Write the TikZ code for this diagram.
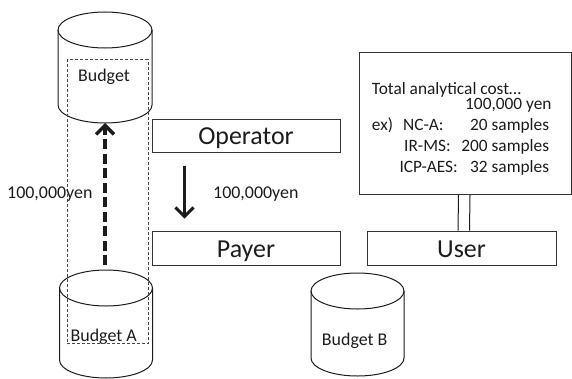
\documentclass[tikz,border=0pt]{standalone}
\usepackage{fontspec}
\setmainfont{Carlito}
\usetikzlibrary{arrows.meta,calc}

\definecolor{ink}{HTML}{1C1C1C}

\tikzset{
  drumline/.style={draw=ink, line width=1bp},
  boxline/.style={draw=ink!90, line width=1bp},
  frame/.style={boxline, inner sep=0pt, font=\fontsize{26}{28}\selectfont,
                text=ink, text height=18bp, text depth=0bp},
  lbl/.style={inner sep=0pt, text=ink, font=\fontsize{18}{20}\selectfont},
  note/.style={inner sep=0pt, text=ink, font=\fontsize{17.4}{19}\selectfont},
  groupline/.style={draw=ink!80, line width=0.8bp, dash pattern=on 3bp off 2bp},
  transfer/.style={draw=ink, line width=3.4bp, dash pattern=on 10bp off 4.5bp,
                   -{Straight Barb[length=9bp,width=18bp]}},
  payment/.style={draw=ink, line width=3bp,
                  -{Straight Barb[length=9bp,width=18bp]}},
  link/.style={draw=ink, line width=1bp}
}

% cylinder: centre x, top-ellipse centre y, bottom-ellipse centre y, x radius
\newcommand\drumbody[4]{%
  \draw[drumline] (#1-#4,#2) -- (#1-#4,#3)
    arc[start angle=180, end angle=360, x radius=#4, y radius=18] -- (#1+#4,#2);
  \draw[drumline] (#1,#2) ellipse[x radius=#4, y radius=18];
}

\begin{document}
\begin{tikzpicture}[x=1bp, y=1bp]
\useasboundingbox (0,0) rectangle (572,378);

% the three budgets
\drumbody{105}{348}{273}{47}
\drumbody{106}{90}{18}{46.5}
\drumbody{357.5}{87}{20}{46.5}
\coordinate (mainfloor) at (105,255);
\coordinate (atop) at (105,113);

\node[lbl, anchor=base] (budget) at (104,296.3) {Budget};
\node[lbl, anchor=base] (budgetA) at (103.7,36.3) {Budget A};
\node[lbl, anchor=base] (budgetB) at (354.7,33) {Budget B};

% dotted grouping of the budget and budget A
\node[groupline, anchor=south west, minimum width=81bp, minimum height=284bp,
      inner sep=0pt] (group) at (67,34) {};

% money moved into the budget
\draw[transfer] (atop) -- (mainfloor);
\node[lbl, anchor=base west] (leftamt) at (7,179.4) {100,000yen};

% operator and payer
\node[frame, minimum width=188bp, minimum height=33bp] (operator) at (246,242.5) {Operator};
\node[frame, minimum width=188bp, minimum height=34bp] (payer) at (246,130) {Payer};
\draw[payment] ($(operator.south west)+(33,-13)$) -- ($(payer.north west)+(33,12)$);
\node[lbl, anchor=base west] (midamt) at (213,179.3) {100,000yen};

% user and the cost statement
\node[frame, minimum width=189bp, minimum height=34bp] (user) at (461.5,130) {User};
\node[boxline, anchor=north west, minimum width=211.5bp, minimum height=142bp,
      inner sep=0pt] (cost) at (359,326) {};
\draw[link] ($(cost.south)+(-6.75,0)$) -- ($(user.north)+(-3.5,0)$);
\draw[link] ($(cost.south)+(4.75,0)$) -- ($(user.north)+(8,0)$);

\node[note, anchor=base west] (c1) at (371.7,283.7) {Total analytical cost…};
\node[note, anchor=base east] (c2) at (551.7,268.7) {100,000 yen};
\node[note, anchor=base west] (c3) at (371.7,247.7) {ex)};
\node[note, anchor=base west] (c3a) at (403,247.7) {NC-A:};
\node[note, anchor=base east] (c3b) at (549.3,247.7) {20 samples};
\node[note, anchor=base west] (c4a) at (404,227) {IR-MS:};
\node[note, anchor=base east] (c4b) at (549.3,227) {200 samples};
\node[note, anchor=base west] (c5a) at (399.3,206) {ICP-AES:};
\node[note, anchor=base east] (c5b) at (549.3,206) {32 samples};
\end{tikzpicture}
\end{document}
